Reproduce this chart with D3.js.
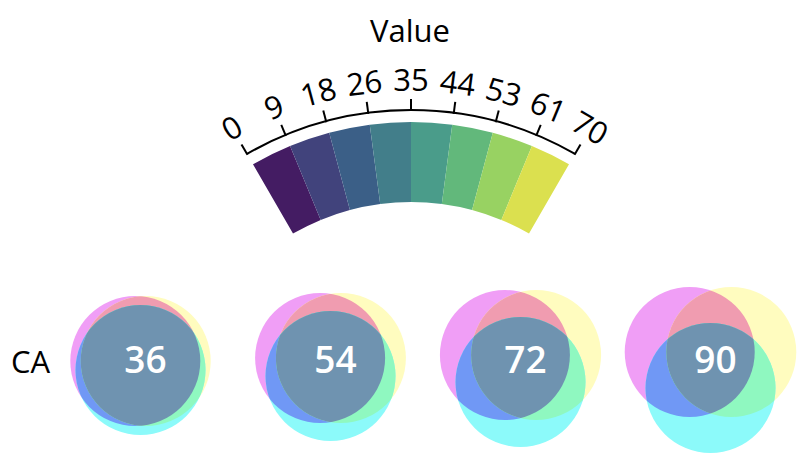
<!DOCTYPE html>
<html>
<head>
<meta charset="utf-8">
<script src="https://cdn.jsdelivr.net/npm/d3@7"></script>
<style>
  html, body { margin: 0; padding: 0; background: #fff; }
  svg { display: block; font-family: "Open Sans", "Noto Sans", sans-serif; }
</style>
</head>
<body>
<svg id="chart" width="808" height="468"></svg>
<script>
// ---- data ----
const legendTitle = "Value";
const legendDomain = [0, 70];
const legendTickValues = [0, 8.75, 17.5, 26.25, 35, 43.75, 52.5, 61.25, 70];
const legendTickLabels = ["0", "9", "18", "26", "35", "44", "53", "61", "70"];
const bandColors = ["#441c63", "#41437c", "#3b5f87", "#427e8a", "#4a9c8a", "#62b87b", "#98d262", "#dbe04f"];

const rowLabels = ["CA"];
const values = [36, 54, 72, 90];
const spread = [6, 12, 18, 24];

// ---- styles ----
const regionColors = {
  m: "#f09ef6", y: "#fffcbf", c: "#8cfafa",
  my: "#f09cb0", mc: "#7098f5", yc: "#8ff8c0", myc: "#6f93b0"
};

const svg = d3.select("#chart");
const defs = svg.append("defs");

// ---- curved legend ----
const lcx = 411, lcy = 438;
const angle = d3.scaleLinear().domain(legendDomain).range([-Math.PI / 6, Math.PI / 6]);
const legend = svg.append("g").attr("transform", `translate(${lcx},${lcy})`);

const nb = bandColors.length;
const bandEdges = d3.range(nb + 1).map(i => legendDomain[0] + (legendDomain[1] - legendDomain[0]) * i / nb);
const bandArc = d3.arc().innerRadius(236).outerRadius(316);
legend.selectAll("path.band")
  .data(bandColors)
  .join("path")
  .attr("class", "band")
  .attr("d", (c, i) => bandArc({ startAngle: angle(bandEdges[i]), endAngle: angle(bandEdges[i + 1]) }))
  .attr("fill", d => d);

const axisR = 328;
const p = d3.path();
p.arc(0, 0, axisR, angle(legendDomain[0]) - Math.PI / 2, angle(legendDomain[1]) - Math.PI / 2);
legend.append("path").attr("d", p.toString()).attr("fill", "none").attr("stroke", "#000").attr("stroke-width", 2);

const ticks = legend.selectAll("g.tick")
  .data(legendTickValues)
  .join("g")
  .attr("class", "tick")
  .attr("transform", d => `rotate(${angle(d) * 180 / Math.PI})`);
ticks.append("line")
  .attr("x1", 0).attr("x2", 0)
  .attr("y1", -axisR + 1).attr("y2", -axisR - 11)
  .attr("stroke", "#000").attr("stroke-width", 2);
ticks.append("text")
  .attr("x", 0).attr("y", -axisR - 19)
  .attr("text-anchor", "middle")
  .attr("font-size", 31)
  .attr("fill", "#000")
  .text((d, i) => legendTickLabels[i]);

svg.append("text")
  .attr("x", 410).attr("y", 42)
  .attr("text-anchor", "middle")
  .attr("font-size", 31)
  .attr("fill", "#000")
  .text(legendTitle);

// ---- glyph row ----
const x = d3.scalePoint().domain(values.map(String)).range([140.5, 710.5]);
const yRow = d3.scalePoint().domain(rowLabels).range([364, 364]);
const R = 65;

svg.append("text")
  .attr("x", 11).attr("y", yRow("CA") + 9)
  .attr("font-size", 31)
  .attr("fill", "#000")
  .text(rowLabels[0]);

values.forEach((v, i) => {
  const cx = x(String(v)), cy = yRow("CA"), d = spread[i];
  const centers = {
    m: [cx - d * Math.cos(Math.PI / 6), cy - d * Math.sin(Math.PI / 6)],
    y: [cx + d * Math.cos(Math.PI / 6), cy - d * Math.sin(Math.PI / 6)],
    c: [cx, cy + d]
  };
  Object.entries(centers).forEach(([k, c]) => {
    defs.append("clipPath").attr("id", `clip-${k}-${i}`)
      .append("circle").attr("cx", c[0]).attr("cy", c[1]).attr("r", R);
  });
  const g = svg.append("g");
  const circ = (sel, k, fill) => sel.append("circle")
    .attr("cx", centers[k][0]).attr("cy", centers[k][1]).attr("r", R).attr("fill", fill);
  circ(g, "m", regionColors.m);
  circ(g, "y", regionColors.y);
  circ(g, "c", regionColors.c);
  circ(g.append("g").attr("clip-path", `url(#clip-y-${i})`), "m", regionColors.my);
  circ(g.append("g").attr("clip-path", `url(#clip-c-${i})`), "m", regionColors.mc);
  circ(g.append("g").attr("clip-path", `url(#clip-c-${i})`), "y", regionColors.yc);
  circ(g.append("g").attr("clip-path", `url(#clip-m-${i})`).append("g").attr("clip-path", `url(#clip-y-${i})`), "c", regionColors.myc);
  g.append("text")
    .attr("x", cx + 5).attr("y", cy + 9)
    .attr("text-anchor", "middle")
    .attr("font-size", 37)
    .attr("font-weight", 600)
    .attr("fill", "#fff")
    .text(v);
});
</script>
</body>
</html>
